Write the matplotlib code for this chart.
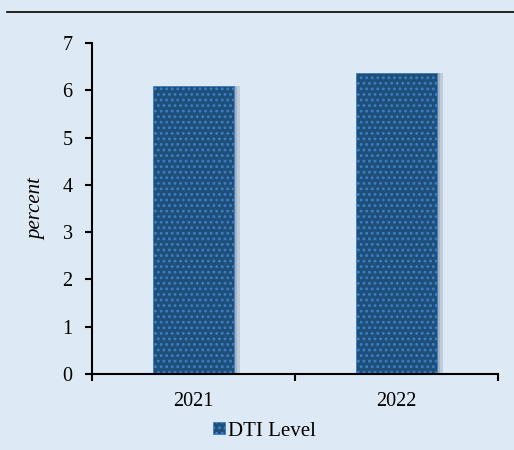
import numpy as np
import matplotlib
matplotlib.use("Agg")
import matplotlib.pyplot as plt
from matplotlib.lines import Line2D
from matplotlib.patches import Patch

# données
years = ["2021", "2022"]
dti_level = [6.09, 6.37]

bg = "#dde9f5"
bar_color = "#1f4e79"
dot_color = "#3a7fc4"

plt.rcParams["font.family"] = ["Liberation Serif", "DejaVu Serif"]
plt.rcParams["hatch.linewidth"] = 1.3

fig = plt.figure(figsize=(5.14, 4.5), dpi=100, facecolor=bg)
ax = fig.add_axes([0.179, 0.169, 0.79, 0.735], facecolor=bg)

x = np.arange(len(years))
width = 0.4

# ombre
ax.bar(x + 0.03, dti_level, width, color="#7f8a99", alpha=0.3, linewidth=0, zorder=1)
ax.bar(x + 0.015, dti_level, width, color="#6f7a89", alpha=0.3, linewidth=0, zorder=1)
ax.bar(x, dti_level, width, color=bar_color, edgecolor=dot_color, linewidth=0.6,
       hatch="...", zorder=2)

ax.set_xlim(-0.5, 1.5)
ax.set_ylim(0, 7)
ax.set_yticks(range(0, 8))
ax.set_xticks([-0.5, 0.5, 1.5])
ax.set_xticklabels([])
ax.set_xticks(x, minor=True)
ax.set_xticklabels(years, minor=True)
ax.tick_params(axis="x", which="minor", length=0, pad=13, labelsize=14.5)
ax.tick_params(axis="x", which="major", direction="out", length=5, width=1.5)
ax.tick_params(axis="y", direction="out", length=5, width=1.5, labelsize=14.5, pad=9)

for s in ["top", "right"]:
    ax.spines[s].set_visible(False)
for s in ["left", "bottom"]:
    ax.spines[s].set_linewidth(1.5)

ax.set_ylabel("percent", fontsize=15, style="italic", labelpad=12)

# ligne en haut
fig.add_artist(Line2D([0.0136, 1.0], [0.973, 0.973], color="black", linewidth=1.2,
                      transform=fig.transFigure))

handle = Patch(facecolor=bar_color, edgecolor=dot_color, hatch="...", linewidth=0.6)
fig.legend([handle], ["DTI Level"], loc="center", bbox_to_anchor=(0.515, 1 - 431 / 450),
           frameon=False, fontsize=15, handlelength=0.55, handleheight=0.55,
           handletextpad=0.15, borderpad=0)

fig.savefig("out.png", dpi=100, facecolor=bg)
